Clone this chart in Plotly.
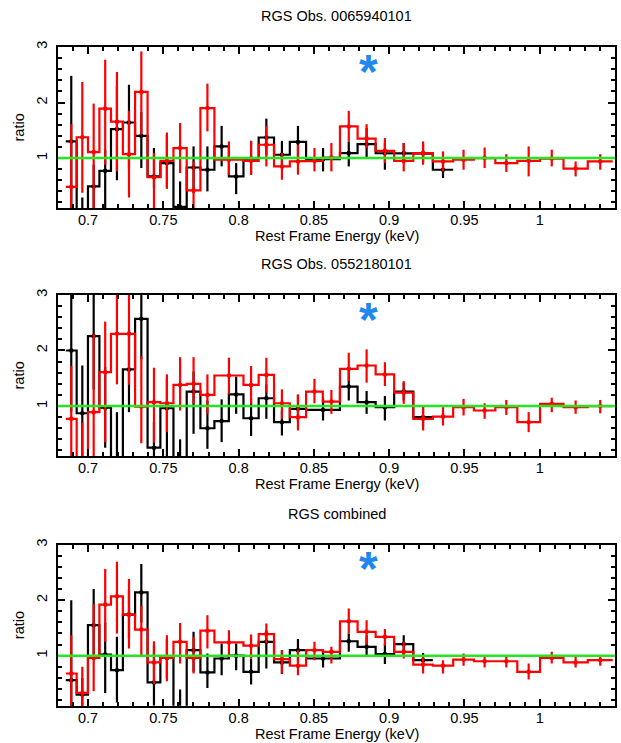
import plotly.graph_objects as go

# ---------------- data ----------------
# bin edges (rest-frame keV)
red_edges = [0.6852, 0.6924, 0.6999, 0.7075, 0.7152, 0.7231, 0.7312, 0.7395, 0.7480, 0.7567,
             0.7655, 0.7746, 0.7839, 0.8032, 0.8133, 0.8235, 0.8340, 0.8448, 0.8559, 0.8673,
             0.8790, 0.8910, 0.9033, 0.9160, 0.9290, 0.9425, 0.9563, 0.9705, 0.9851, 1.0002,
             1.0158, 1.0319, 1.0485]
black_edges_1 = [0.6852, 0.6924, 0.6999, 0.7075, 0.7152, 0.7231, 0.7312, 0.7395, 0.7480, 0.7567,
                 0.7655, 0.7746, 0.7839, 0.7935, 0.8032, 0.8133, 0.8235, 0.8340, 0.8448, 0.8673,
                 0.8790, 0.8910, 0.9033, 0.9160, 0.9290, 0.9425]
black_edges_23 = [0.6852, 0.6924, 0.6999, 0.7075, 0.7152, 0.7231, 0.7312, 0.7395, 0.7480, 0.7567,
                  0.7655, 0.7746, 0.7839, 0.7935, 0.8032, 0.8133, 0.8235, 0.8340, 0.8448, 0.8673,
                  0.8790, 0.8910, 0.9033, 0.9160, 0.9290]

# Panel 1: RGS Obs. 0065940101
p1_red = [0.48, 1.375, 1.107, 1.89, 1.655, 1.07, 2.19, 0.655, 0.95, 1.18, 0.42, 1.90, 0.97,
          0.95, 1.24, 0.85, 0.94, 0.95, 1.01, 1.57, 1.35, 1.13, 0.95, 1.09, 0.94, 0.97, 1.00,
          0.91, 0.95, 0.99, 0.81, 0.94]
p1_red_hi = [1.61, 2.37, 1.98, 2.77, 2.55, 1.85, 2.92, 1.09, 1.46, 1.63, 0.94, 2.34, 1.30,
             1.31, 1.58, 1.09, 1.24, 1.18, 1.27, 1.85, 1.61, 1.36, 1.27, 1.30, 1.12, 1.15, 1.19,
             1.07, 1.21, 1.15, 0.94, 1.07]
p1_red_lo = [0.0, 0.375, 0.0, 0.88, 0.76, 0.29, 1.42, 0.0, 0.46, 0.73, 0.0, 1.48, 0.70,
             0.70, 0.85, 0.61, 0.70, 0.76, 0.76, 1.30, 1.18, 0.91, 0.76, 0.88, 0.76, 0.79, 0.82,
             0.75, 0.67, 0.85, 0.67, 0.79]
p1_blk = [1.30, 0.03, 0.49, 0.77, 1.52, 1.64, 1.40, 0.67, 0.91, 0.12, 0.83, 0.79, 1.21,
          0.67, 0.99, 1.37, 1.06, 1.29, 0.98, 1.09, 1.25, 1.09, 1.09, 1.08, 0.79]
p1_blk_hi = [2.48, 0.29, 0.88, 1.15, 2.30, 2.32, 1.83, 1.18, 1.42, 0.58, 1.21, 1.21, 1.58,
             0.91, 1.31, 1.71, 1.31, 1.58, 1.18, 1.30, 1.54, 1.27, 1.27, 1.25, 0.94]
p1_blk_lo = [0.0, 0.0, 0.0, 0.0, 0.60, 0.82, 0.82, 0.46, 0.45, 0.0, 0.37, 0.40, 0.85,
             0.35, 0.70, 1.05, 0.82, 1.00, 0.76, 0.85, 0.99, 0.79, 0.91, 0.92, 0.64]

# Panel 2: RGS Obs. 0552180101
p2_red = [0.77, 0.05, 0.89, 1.61, 2.30, 2.30, 0.99, 1.07, 1.05, 1.38, 1.40, 1.20, 1.55,
          1.38, 1.56, 1.05, 0.80, 1.26, 1.08, 1.67, 1.73, 1.57, 1.24, 0.77, 0.81, 0.98, 0.92,
          0.98, 0.71, 1.04, 0.98, 1.00]
p2_red_hi = [1.72, 0.70, 2.30, 2.52, 3.20, 3.20, 1.90, 1.69, 1.57, 1.88, 1.88, 1.57, 1.87,
             1.72, 1.87, 1.30, 1.21, 1.49, 1.29, 1.96, 2.02, 1.79, 1.45, 0.98, 0.98, 1.13, 1.05,
             1.11, 0.89, 1.15, 1.10, 1.11]
p2_red_lo = [0.0, 0.0, 0.0, 0.35, 1.39, 1.38, 0.33, 0.34, 0.53, 0.92, 1.04, 0.86, 1.21,
             1.04, 1.24, 0.77, 0.56, 1.05, 0.86, 1.45, 1.42, 1.36, 1.04, 0.56, 0.65, 0.83, 0.77,
             0.84, 0.53, 0.89, 0.86, 0.87]
p2_blk = [2.00, 0.87, 2.26, 0.97, 0.05, 1.66, 2.57, 0.25, 0.96, 0.05, 1.26, 0.60, 0.73,
          1.21, 0.78, 1.14, 0.71, 0.95, 0.93, 1.35, 1.07, 0.98, 1.26, 0.80]
p2_blk_hi = [3.20, 1.73, 3.20, 1.70, 0.89, 2.37, 3.20, 0.71, 1.50, 0.40, 1.62, 1.10, 1.12,
             1.53, 1.13, 1.39, 0.92, 1.20, 1.15, 1.63, 1.27, 1.18, 1.42, 0.98]
p2_blk_lo = [0.90, 0.0, 1.30, 0.25, 0.0, 0.89, 1.84, 0.0, 0.08, 0.0, 0.50, 0.23, 0.35,
             0.86, 0.46, 0.77, 0.47, 0.72, 0.74, 1.10, 0.86, 0.74, 1.10, 0.62]

# Panel 3: RGS combined
p3_red = [0.68, 0.33, 0.96, 1.92, 2.07, 1.74, 1.47, 0.88, 0.96, 1.25, 0.96, 1.45, 1.24,
          1.18, 1.39, 0.94, 0.82, 1.10, 1.07, 1.62, 1.43, 1.34, 1.07, 0.84, 0.82, 0.93, 0.90,
          0.90, 0.71, 0.96, 0.88, 0.92]
p3_red_hi = [1.37, 0.80, 1.93, 2.56, 2.69, 2.38, 1.90, 1.26, 1.37, 1.59, 1.34, 1.73, 1.46,
             1.38, 1.58, 1.10, 1.10, 1.25, 1.16, 1.85, 1.64, 1.48, 1.25, 1.00, 0.92, 1.04, 1.01,
             1.01, 0.86, 1.07, 0.98, 1.00]
p3_red_lo = [0.0, 0.0, 0.36, 1.25, 1.40, 1.13, 0.98, 0.49, 0.54, 0.86, 0.68, 1.13, 0.98,
             0.95, 1.22, 0.68, 0.65, 0.92, 0.86, 1.40, 1.20, 1.18, 0.95, 0.68, 0.68, 0.82, 0.79,
             0.79, 0.57, 0.86, 0.79, 0.82]
p3_blk = [0.56, 0.30, 1.55, 1.02, 0.74, 1.74, 2.14, 0.52, 0.96, 0.05, 1.10, 0.70, 0.95,
          1.00, 0.71, 1.25, 0.88, 1.10, 0.95, 1.26, 1.16, 1.03, 1.21, 0.92]
p3_blk_hi = [2.00, 0.60, 2.20, 1.60, 1.34, 2.20, 2.65, 1.19, 1.30, 0.39, 1.43, 1.04, 1.22,
             1.22, 0.95, 1.46, 1.10, 1.30, 1.10, 1.40, 1.37, 1.22, 1.37, 1.05]
p3_blk_lo = [0.07, 0.0, 0.95, 0.33, 0.16, 1.30, 1.60, 0.10, 0.60, 0.0, 0.71, 0.42, 0.65,
             0.74, 0.48, 0.77, 0.67, 0.89, 0.79, 1.07, 1.01, 0.85, 1.01, 0.80]

titles = ["RGS Obs. 0065940101", "RGS Obs. 0552180101", "RGS combined"]
star_x, star_y = 0.8864, 2.58

panels = [
    (p1_blk, p1_blk_hi, p1_blk_lo, black_edges_1, p1_red, p1_red_hi, p1_red_lo),
    (p2_blk, p2_blk_hi, p2_blk_lo, black_edges_23, p2_red, p2_red_hi, p2_red_lo),
    (p3_blk, p3_blk_hi, p3_blk_lo, black_edges_23, p3_red, p3_red_hi, p3_red_lo),
]

# ---------------- layout geometry (pixels) ----------------
W, H = 621, 743
left_px, right_px = 58, 615
tops_px = [41.3, 291.3, 543.0]
box_h = 162.4
FONT = "Liberation Sans, Arial, Helvetica, sans-serif"
FS = 14.5

fig = go.Figure()

def add_series(vals, hi, lo, edges, color, xa, ya):
    xs, ys = [], []
    for i, v in enumerate(vals):
        xs += [edges[i], edges[i + 1]]
        ys += [v, v]
    fig.add_trace(go.Scatter(x=xs, y=ys, mode="lines", xaxis=xa, yaxis=ya,
                             line=dict(color=color, width=2.2), hoverinfo="skip",
                             showlegend=False))
    cx = [(edges[i] + edges[i + 1]) / 2 for i in range(len(vals))]
    fig.add_trace(go.Scatter(x=cx, y=vals, mode="markers", xaxis=xa, yaxis=ya,
                             marker=dict(color=color, size=4.5),
                             error_y=dict(type="data", symmetric=False,
                                          array=[h - v for h, v in zip(hi, vals)],
                                          arrayminus=[v - l for v, l in zip(vals, lo)],
                                          color=color, thickness=2.2, width=0),
                             showlegend=False))

annotations = []
shapes = []
for k, (bv, bh, bl, be, rv, rh, rl) in enumerate(panels):
    n = "" if k == 0 else str(k + 1)
    xa, ya = "x" + n, "y" + n
    add_series(bv, bh, bl, be, "black", xa, ya)
    add_series(rv, rh, rl, red_edges, "#ff0000", xa, ya)

    top = tops_px[k]
    bot = top + box_h
    dom_y = [1 - bot / H, 1 - top / H]
    axis_common = dict(showline=True, linecolor="black", linewidth=1.8, mirror="ticks",
                       ticks="inside", ticklen=7, tickwidth=1.6, tickcolor="black",
                       showgrid=False, zeroline=False,
                       tickfont=dict(family=FONT, size=FS, color="black"))
    fig.layout["xaxis" + n] = dict(domain=[left_px / W, right_px / W], anchor=ya,
                                   range=[0.68, 1.05], tick0=0.7, dtick=0.05,
                                   ticklabelstandoff=-2,
                                   minor=dict(dtick=0.01, tick0=0.7, ticks="inside",
                                              ticklen=4, tickwidth=1.5, tickcolor="black"),
                                   **axis_common)
    fig.layout["yaxis" + n] = dict(domain=dom_y, anchor=xa, range=[0.1, 3.0],
                                   tick0=0, dtick=1, tickangle=-90, ticklabelstandoff=3,
                                   minor=dict(dtick=0.2, tick0=0, ticks="inside",
                                              ticklen=4, tickwidth=1.5, tickcolor="black"),
                                   **axis_common)
    # reference line at ratio = 1
    shapes.append(dict(type="line", xref=xa, yref=ya, x0=0.68, x1=1.05, y0=1, y1=1,
                       line=dict(color="#22e822", width=2.4), layer="above"))
    # titles
    cx_paper = (left_px + right_px) / 2 / W
    annotations.append(dict(text=titles[k], xref="paper", yref="paper", x=cx_paper,
                            y=1 - (top - 31) / H, showarrow=False, xanchor="center",
                            yanchor="middle", font=dict(family=FONT, size=FS, color="black")))
    annotations.append(dict(text="Rest Frame Energy (keV)", xref="paper", yref="paper",
                            x=cx_paper, y=1 - (bot + 28.5) / H, showarrow=False,
                            xanchor="center", yanchor="middle",
                            font=dict(family=FONT, size=FS, color="black")))
    annotations.append(dict(text="ratio", xref="paper", yref="paper", x=19 / W,
                            y=1 - (top + box_h / 2) / H, showarrow=False, textangle=-90,
                            xanchor="center", yanchor="middle",
                            font=dict(family=FONT, size=FS, color="black")))
    annotations.append(dict(text="<b>*</b>", xref=xa, yref=ya, x=star_x, y=star_y,
                            showarrow=False, xanchor="center", yanchor="middle", yshift=-1,
                            font=dict(family=FONT, size=48, color="#1e88f0")))

fig.update_layout(width=W, height=H, autosize=False,
                  margin=dict(l=0, r=0, t=0, b=0),
                  paper_bgcolor="white", plot_bgcolor="white",
                  annotations=annotations, shapes=shapes, showlegend=False)

fig.write_html("out.html",
               config={"displayModeBar": False},
               post_script="document.body.style.margin='0px';"
                           "document.body.style.overflow='hidden';")
